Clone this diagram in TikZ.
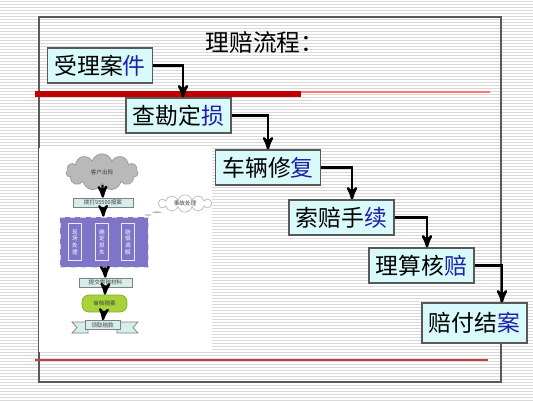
\documentclass[tikz,border=0pt]{standalone}
\usepackage{fontspec}
\setmainfont{Noto Sans CJK SC}
\usetikzlibrary{arrows}
\usetikzlibrary{shapes.symbols,shapes.callouts}
\definecolor{boxcyan}{HTML}{D8FAFA}
\definecolor{darkred}{HTML}{C00000}
\definecolor{lastblue}{HTML}{1F1FA8}
\definecolor{insetpurple}{HTML}{7E74C8}
\definecolor{insetgreen}{HTML}{A6D23A}
\definecolor{insetcyan}{HTML}{D6EEEA}
\tikzset{
 stage/.style={draw=black!65, line width=0.7pt, fill=boxcyan, minimum width=2.1cm, minimum height=0.7cm, inner sep=1pt, font=\fontsize{13}{15}\selectfont},
 flow/.style={black, line width=1.4pt, ->, >=stealth'},
 tiny/.style={font=\fontsize{3.2}{3.8}\selectfont, text=black!75},
 report/.style={tiny, draw=gray, fill=insetcyan, minimum height=0.18cm, inner sep=0.5pt},
 column/.style={tiny, text=white, draw=white!85!insetpurple, minimum width=0.26cm, minimum height=0.74cm, align=center, inner sep=0.5pt},
 pipe/.style={black, line width=1.3pt, ->, >=stealth'}
}
\begin{document}
\begin{tikzpicture}[x=0.02cm, y=-0.02cm]
\useasboundingbox (0,0) rectangle (533,400);
\fill[white] (0,0) rectangle (533,400);
\foreach \y in {1,4,...,400}
 \draw[gray!30, line width=0.4pt] (0,\y) -- (533,\y);
\draw[black!65, line width=0.8pt] (39,17) rectangle (501,382);
\draw[red!55, line width=0.6pt] (300,92) -- (490,92);
\draw[darkred, line width=3.7pt] (35,94) -- (301,94);
\draw[red!45!gray, line width=0.8pt] (35,360) -- (488,360);
\node[font=\fontsize{13.5}{15}\selectfont] (title) at (265,42) {理赔流程：};

\fill[white] (39,148) rectangle (212,352);
\node[cloud, cloud puffs=11, aspect=2.6, draw=gray!80, fill=gray!55, minimum width=1.44cm, minimum height=0.56cm, tiny] (accident) at (102,172) {客户出险};
\node[report, minimum width=1.2cm] (call) at (103,202.5) {拨打95500报案};
\node[draw=white!70!gray, dashed, fill=insetpurple, minimum width=1.76cm, minimum height=1cm] (scene) at (104,242) {};
\node[cloud callout, cloud puffs=12, aspect=4, draw=gray!55, fill=white, minimum width=1.08cm, minimum height=0.26cm, inner sep=0.5pt, callout absolute pointer={(148,215)}, tiny] (handle) at (185,203.5) {事故处理};
\node[column] (onsite) at (75,242) {现\\场\\处\\理};
\node[column] (loss) at (102,242) {确\\定\\损\\失};
\node[column] (mediate) at (128,242) {赔\\偿\\调\\解};
\node[report, minimum width=1.06cm] (submit) at (105.5,282.5) {提交索赔材料};
\node[tiny, rounded corners=4pt, fill=insetgreen, draw=insetgreen!80!black, minimum width=0.9cm, minimum height=0.26cm] (audit) at (104.5,303.5) {审核赔案};
\filldraw[gray, fill=insetcyan] (72,322) -- (88,322) -- (88,333) -- (72,333) -- (77,327.5) -- cycle;
\filldraw[gray, fill=insetcyan] (138,322) -- (117,322) -- (117,333) -- (138,333) -- (133,327.5) -- cycle;
\node[report, minimum width=0.7cm] (payout) at (102.5,325) {领取赔款};
\draw[pipe] (accident) -- (call);
\draw[pipe] (call) -- (scene);
\draw[pipe] (scene) -- (submit);
\draw[pipe] (submit) -- (audit);
\draw[pipe] (audit) -- (payout);

\node[stage] (accept) at (100,65.5) {受理案\textcolor{lastblue}{件}};
\node[stage] (survey) at (178.5,115.5) {查勘定\textcolor{lastblue}{损}};
\node[stage] (repair) at (268,167.5) {车辆修\textcolor{lastblue}{复}};
\node[stage] (claim) at (341.5,217.5) {索赔手\textcolor{lastblue}{续}};
\node[stage] (adjust) at (421.5,265.5) {理算核\textcolor{lastblue}{赔}};
\node[stage, minimum height=0.8cm] (settle) at (474.5,323) {赔付结\textcolor{lastblue}{案}};
\draw[flow] (accept.east) -| ([xshift=0.09cm]survey.north);
\draw[flow] (survey.east) -| (repair.north);
\draw[flow] (repair.east) -| ([xshift=0.21cm]claim.north);
\draw[flow] (claim.east) -| ([xshift=0.11cm]adjust.north);
\draw[flow] (adjust.east) -| ([xshift=0.55cm]settle.north);
\end{tikzpicture}
\end{document}
